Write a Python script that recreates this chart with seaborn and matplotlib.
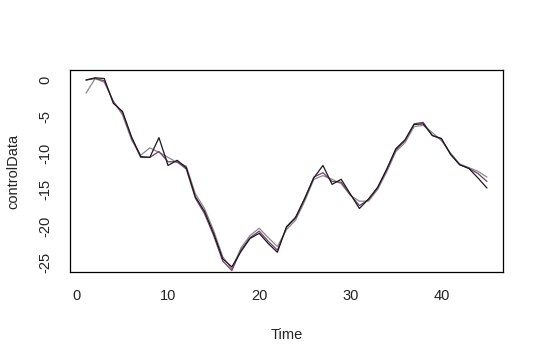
import numpy as np
import pandas as pd
import matplotlib
matplotlib.use("Agg")
import matplotlib.pyplot as plt
import seaborn as sns

time = list(range(1, 46))
control = [0.0, 0.3, 0.2, -3.2, -4.3, -7.8, -10.5, -10.6, -7.9, -11.7,
           -11.0, -12.0, -16.0, -18.0, -21.0, -24.5, -25.6, -23.5, -21.7, -21.0,
           -22.4, -23.6, -20.1, -18.8, -16.2, -13.4, -11.7, -14.3, -13.6, -15.6,
           -17.6, -16.3, -14.7, -12.2, -9.4, -8.2, -6.1, -6.0, -7.6, -8.0,
           -10.2, -11.6, -12.1, -13.4, -14.8]
fit_gray = [-1.8, 0.2, -0.3, -2.9, -4.8, -8.2, -10.3, -9.3, -9.9, -10.6,
            -11.3, -11.8, -15.6, -17.6, -20.6, -24.2, -25.9, -23.0, -21.3, -20.3,
            -21.6, -22.8, -20.5, -19.2, -16.6, -13.6, -13.1, -13.6, -14.2, -15.8,
            -16.6, -16.6, -15.0, -12.6, -9.8, -8.6, -6.4, -6.2, -7.2, -8.3,
            -10.0, -11.5, -12.0, -12.5, -13.3]
fit_purple = [0.0, 0.2, -0.1, -3.0, -4.5, -8.0, -10.6, -10.6, -9.8, -11.2,
              -11.2, -12.2, -16.2, -18.3, -21.3, -24.8, -26.1, -23.3, -21.6, -20.7,
              -22.1, -23.3, -20.2, -18.9, -16.3, -13.3, -12.7, -13.9, -14.0, -15.7,
              -17.2, -16.4, -14.8, -12.3, -9.6, -8.3, -6.0, -5.8, -7.6, -8.1,
              -10.1, -11.6, -12.1, -12.8, -13.9]

df = pd.concat([
    pd.DataFrame({"Time": time, "value": fit_gray, "series": "gray"}),
    pd.DataFrame({"Time": time, "value": fit_purple, "series": "purple"}),
    pd.DataFrame({"Time": time, "value": control, "series": "control"}),
])

sns.set_style("white")
plt.rcParams["font.family"] = ["Liberation Sans", "DejaVu Sans"]
plt.rcParams["axes.unicode_minus"] = False

fig = plt.figure(figsize=(5.4, 3.6), dpi=100)
ax = fig.add_axes([70/540, 88/360, 433/540, 202/360])

palette = {"gray": "#8a8a8a", "purple": "#7a3d6e", "control": "#1a1a1a"}
sns.lineplot(data=df, x="Time", y="value", hue="series", palette=palette,
             linewidth=0.9, legend=False, ax=ax, estimator=None, sort=False)

ax.set_xlim(-0.76, 46.76)
ax.set_ylim(-26.3, 1.37)
ax.set_xticks([0, 10, 20, 30, 40])
ax.set_yticks([0, -5, -10, -15, -20, -25])
ax.set_yticklabels(["0", "-5", "-10", "-15", "-20", "-25"], rotation=90, va="center")
for s in ax.spines.values():
    s.set_color("black")
    s.set_linewidth(0.9)
ax.tick_params(axis="both", direction="out", length=5.5, width=0.8, color="black",
               labelsize=10.5, labelcolor="#222222")
ax.tick_params(axis="x", pad=7)
ax.tick_params(axis="y", pad=7)
ax.set_xlabel("Time", fontsize=10.5, color="#222222", labelpad=18)
ax.set_ylabel("controlData", fontsize=10.5, color="#222222", labelpad=13)

fig.savefig("out.png", dpi=100)
